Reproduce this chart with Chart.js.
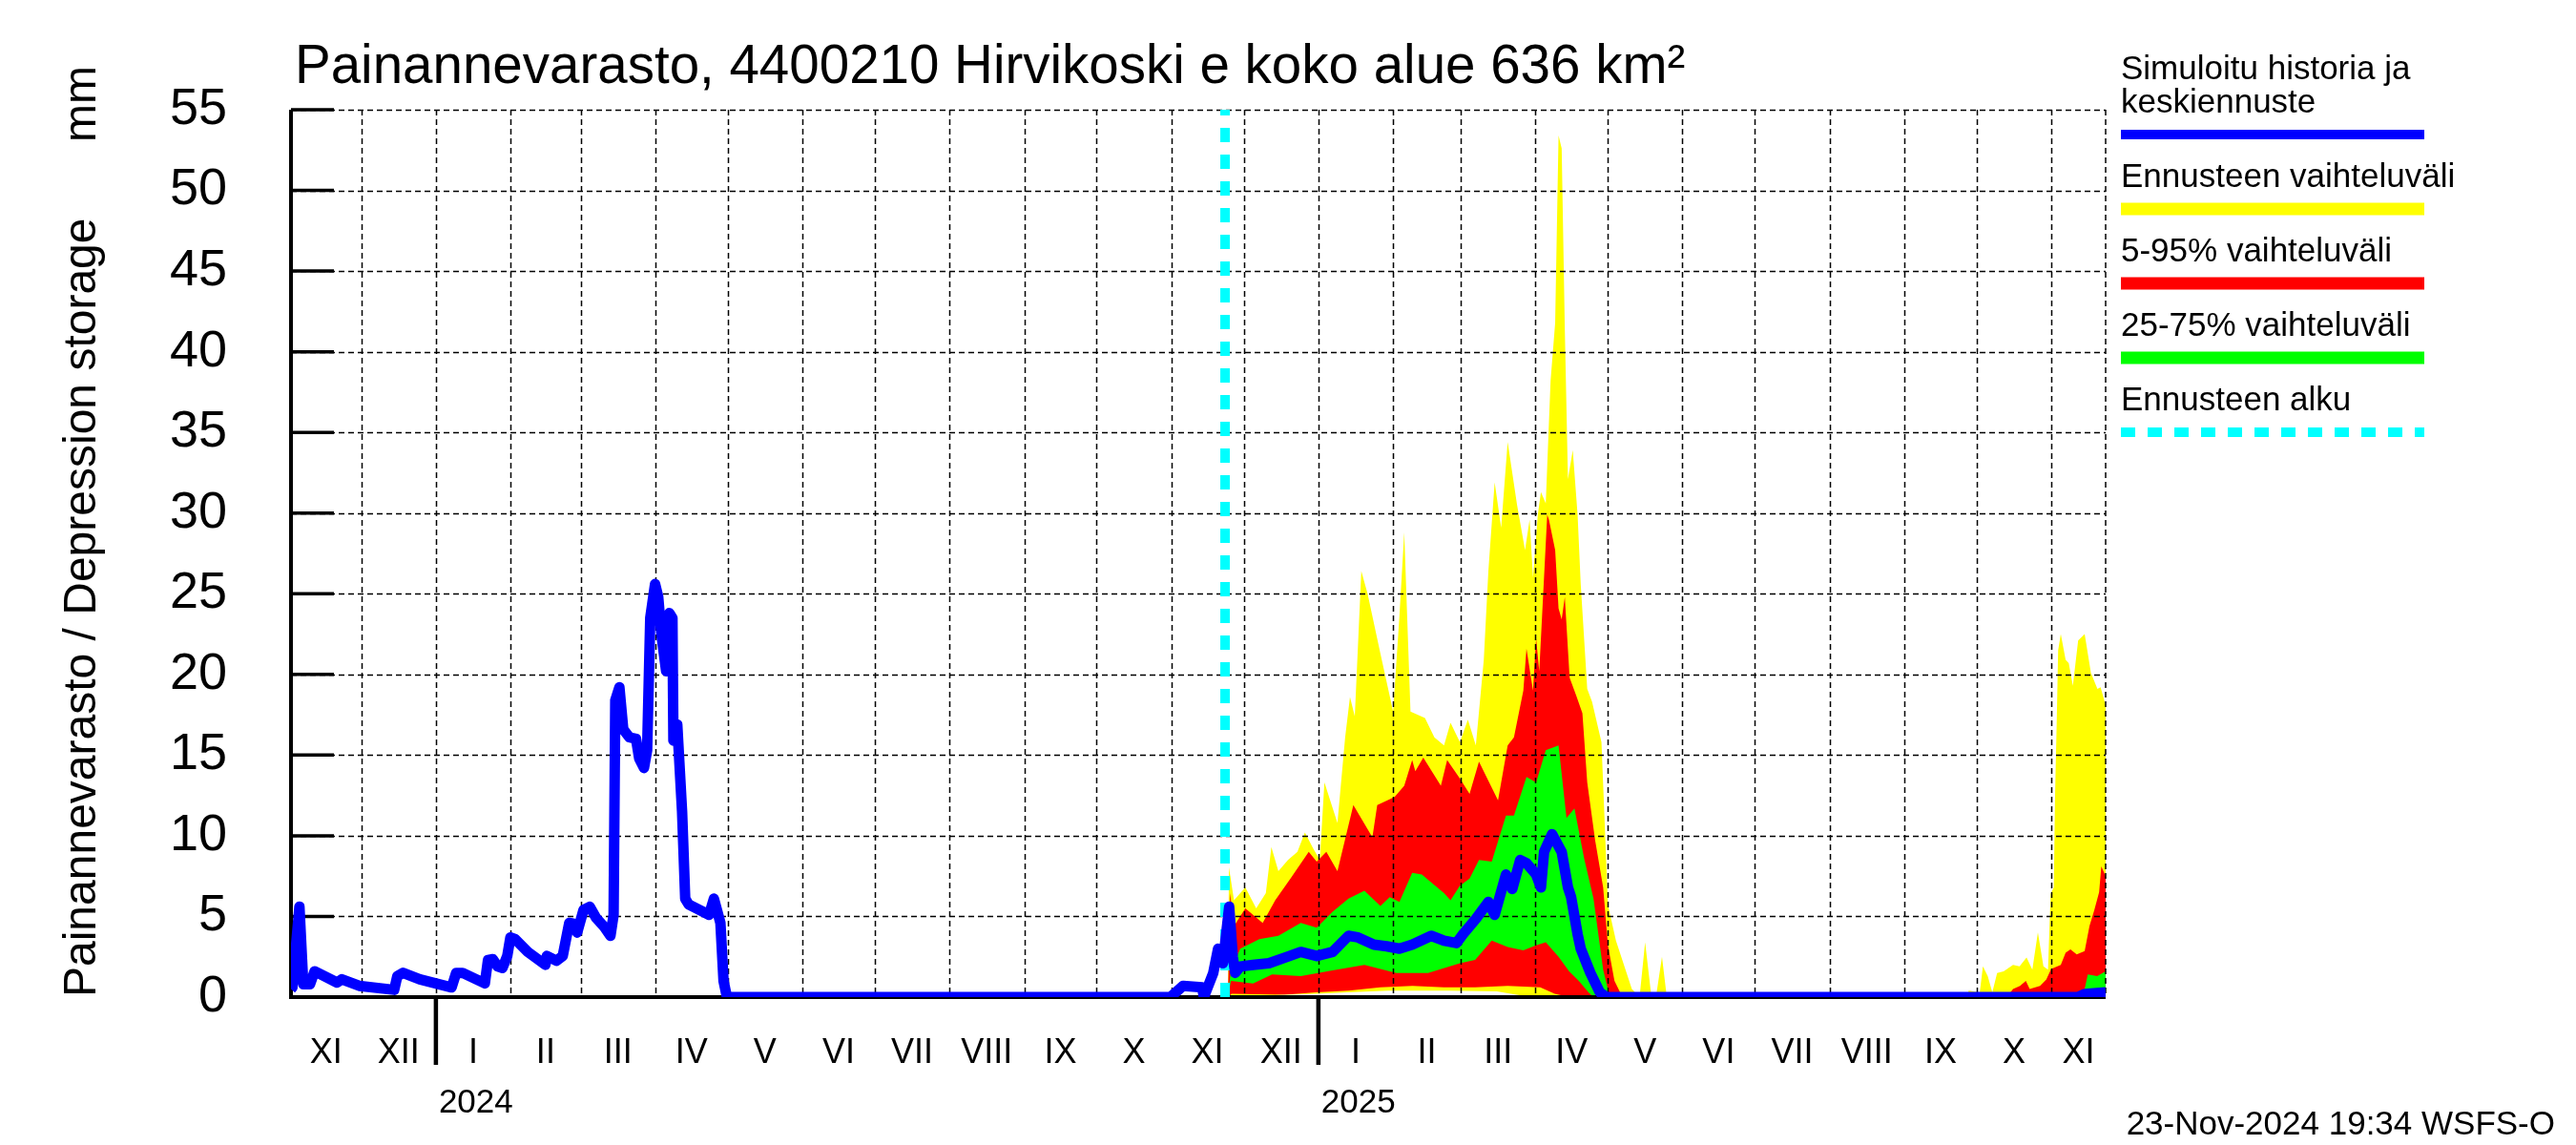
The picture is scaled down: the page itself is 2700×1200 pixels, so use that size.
<!DOCTYPE html>
<html>
<head>
<meta charset="utf-8">
<title>Painannevarasto 4400210 Hirvikoski</title>
<script src="https://cdn.jsdelivr.net/npm/chart.js@4.4.1/dist/chart.umd.min.js"></script>
<style>
  html, body { margin: 0; padding: 0; background: #fff; }
  canvas { display: block; }
</style>
</head>
<body>
<canvas id="chart" width="2700" height="1200"></canvas>
<script>
// x = days counted from 1 Jan 2024, y = mm
const xStart = -60.1;        // 2 Nov 2023
const xEnd = 692.5;          // 23 Nov 2025
const forecastStart = 327.3; // 23 Nov 2024

const romanMonths = ['I', 'II', 'III', 'IV', 'V', 'VI', 'VII', 'VIII', 'IX', 'X', 'XI', 'XII'];
const yearLabels = ['2024', '2025'];

// simulated history + median forecast (blue)
const simulated = [
  [-60.1, 0.5], [-59.5, 0.6], [-56.6, 5.6], [-55.0, 0.8], [-52.2, 0.8], [-50.3, 1.6], [-41.0, 0.9],
  [-39.0, 1.1], [-31.8, 0.7], [-17.3, 0.45], [-16.0, 1.3], [-13.6, 1.5], [-6.7, 1.1], [6.5, 0.6],
  [8.4, 1.5], [11.1, 1.5], [20.3, 0.85], [21.6, 2.3], [23.6, 2.35], [25.6, 1.9], [27.6, 1.8],
  [29.6, 2.55], [30.9, 3.7], [32.8, 3.6], [38.1, 2.8], [45.4, 2.0], [46.0, 2.55], [50.0, 2.25],
  [52.6, 2.55], [55.3, 4.6], [57.3, 4.55], [58.6, 4.0], [61.2, 5.4], [63.8, 5.6], [66.5, 4.9],
  [69.8, 4.35], [72.4, 3.8], [73.7, 5.1], [74.4, 18.4], [76.1, 19.2], [77.7, 16.6], [80.3, 16.1],
  [83.0, 16.0], [84.3, 14.8], [86.3, 14.2], [87.6, 15.3], [88.9, 23.5], [90.9, 25.6], [92.2, 24.8],
  [93.5, 22.5], [95.5, 20.2], [96.8, 23.8], [98.1, 23.5], [98.5, 15.9], [100.1, 16.9], [102.1, 11.5],
  [103.4, 6.1], [104.8, 5.75], [109.3, 5.4], [113.3, 5.1], [115.3, 6.1], [118.0, 4.6], [119.3, 1.0],
  [120.7, 0], [304.6, 0], [309.9, 0.7], [317.8, 0.6], [318.5, 0], [322.4, 1.5], [324.4, 3.0],
  [326.4, 2.1], [329.0, 5.6], [330.5, 2.5], [331.5, 1.5], [333.6, 1.9], [338.9, 2.0], [345.5, 2.1],
  [352.1, 2.45], [358.7, 2.8], [365.3, 2.55], [371.9, 2.8], [378.5, 3.8], [382.4, 3.7], [389.0, 3.25],
  [394.3, 3.15], [399.6, 3.0], [404.9, 3.25], [412.8, 3.8], [418.1, 3.5], [423.3, 3.35], [426.0, 3.9],
  [431.3, 4.85], [436.5, 5.9], [439.1, 5.1], [443.8, 7.6], [446.4, 6.7], [449.7, 8.5], [452.3, 8.3],
  [456.3, 7.6], [458.3, 6.8], [459.6, 9.0], [462.9, 10.1], [466.9, 9.0], [469.5, 6.8], [470.8, 6.2],
  [473.5, 3.9], [474.8, 3.0], [478.8, 1.5], [482.7, 0.3], [485.4, 0], [681.0, 0], [684.0, 0.2],
  [692.5, 0.3]
];

// forecast range, max (yellow top)
const forecastMax = [
  [328.5, 0], [328.9, 8.05], [331.0, 6.0], [335.7, 6.8], [340.2, 5.5], [344.2, 6.45], [346.5, 9.3],
  [349.4, 7.8], [353.4, 8.5], [357.3, 9.0], [360.4, 10.2], [363.9, 9.2], [366.6, 8.5], [368.5, 13.3],
  [373.9, 10.8], [377.1, 16.1], [379.1, 18.6], [381.1, 17.4], [383.8, 26.4], [386.4, 25.0],
  [391.7, 21.3], [397.0, 17.7], [399.6, 23.6], [401.6, 28.8], [404.2, 17.7], [410.2, 17.3],
  [414.1, 16.1], [418.1, 15.6], [420.8, 17.0], [424.7, 15.8], [428.0, 17.2], [431.3, 15.6],
  [434.6, 20.9], [436.5, 26.4], [439.1, 31.9], [441.8, 29.1], [444.5, 34.4], [448.4, 30.5],
  [451.7, 27.7], [453.6, 29.6], [455.0, 26.0], [457.0, 29.9], [458.3, 31.3], [460.3, 30.6],
  [462.3, 38.2], [464.2, 41.8], [465.6, 53.4], [466.9, 52.6], [468.2, 41.4], [469.5, 32.1],
  [471.5, 33.9], [473.5, 29.9], [474.8, 25.6], [477.5, 19.1], [479.5, 18.3], [483.4, 15.8],
  [486.1, 5.7], [489.4, 3.5], [496.0, 0.5], [499.2, 0], [501.5, 3.4], [503.9, 0.3], [506.0, 0],
  [508.5, 2.5], [510.5, 0], [635.0, 0], [635.7, 0.4], [640.3, 0.3], [641.6, 1.9], [643.6, 1.3],
  [645.5, 0.3], [647.5, 1.5], [650.2, 1.6], [654.1, 2.0], [656.8, 1.9], [659.7, 2.45], [662.1, 1.7],
  [664.4, 4.0], [666.7, 1.9], [668.6, 1.7], [669.7, 6.4], [671.0, 6.8], [671.5, 12.3], [672.2, 17.0],
  [672.8, 21.5], [673.9, 22.5], [675.9, 20.9], [677.2, 20.7], [678.9, 19.3], [681.1, 22.1],
  [683.8, 22.5], [686.4, 20.1], [689.1, 19.1], [690.4, 19.2], [692.5, 18.1]
];

// 95 % (red top)
const forecastP95 = [
  [328.5, 0], [329.4, 6.45], [331.0, 4.4], [335.7, 5.5], [342.9, 4.6], [348.1, 6.0], [354.7, 7.4],
  [362.0, 9.0], [365.3, 8.4], [369.3, 9.0], [373.9, 7.8], [380.5, 11.9], [388.4, 9.9], [390.4, 11.9],
  [397.6, 12.4], [401.6, 13.1], [404.9, 14.7], [406.2, 14.0], [409.5, 14.85], [416.8, 13.1],
  [419.4, 14.7], [424.7, 13.55], [428.7, 12.6], [432.6, 14.6], [440.5, 12.2], [444.5, 15.6],
  [447.1, 16.1], [451.0, 19.0], [452.3, 21.6], [455.0, 19.0], [456.3, 22.2], [457.6, 20.2],
  [460.9, 29.9], [461.6, 29.6], [464.2, 27.7], [465.6, 24.1], [466.9, 23.4], [468.2, 24.8],
  [470.2, 19.8], [472.9, 18.7], [475.5, 17.6], [477.5, 13.3], [480.8, 9.7], [484.1, 6.8],
  [486.1, 3.2], [488.8, 1.0], [492.1, 0], [651.5, 0], [654.1, 0.5], [657.0, 0.7], [659.4, 1.0],
  [661.0, 0.5], [665.3, 0.7], [667.9, 1.1], [669.9, 1.75], [673.9, 2.0], [675.9, 2.75], [677.9, 2.95],
  [680.5, 2.65], [683.8, 2.85], [685.8, 4.4], [687.8, 5.4], [689.8, 6.5], [690.7, 8.1], [692.5, 7.5]
];

// 75 % (green top)
const forecastP75 = [
  [328.5, 0], [329.7, 1.65], [333.6, 3.0], [341.5, 3.6], [349.4, 3.8], [358.7, 4.6], [365.3, 4.3],
  [371.9, 5.3], [378.5, 6.1], [385.1, 6.6], [391.7, 5.65], [395.6, 6.2], [399.6, 5.9], [404.9, 7.7],
  [408.9, 7.6], [418.1, 6.45], [420.8, 6.0], [424.7, 6.9], [428.7, 7.35], [432.6, 8.5], [437.9, 8.4],
  [443.8, 11.25], [447.1, 11.25], [452.3, 13.65], [456.3, 13.3], [460.3, 15.3], [465.6, 15.6],
  [468.9, 11.1], [472.2, 11.7], [476.2, 8.6], [480.1, 6.1], [484.1, 1.7], [486.7, 0.1], [487.5, 0],
  [679.2, 0], [681.0, 0.3], [683.8, 0.5], [685.1, 1.4], [689.0, 1.3], [692.5, 1.6]
];

// 25 % (green bottom)
const forecastP25 = [
  [328.5, 0], [329.7, 1.0], [338.9, 0.85], [346.8, 1.4], [358.7, 1.3], [371.9, 1.65], [385.1, 2.0],
  [398.3, 1.5], [411.5, 1.5], [424.7, 2.1], [431.0, 2.3], [437.9, 3.5], [444.5, 3.1], [451.0, 2.9],
  [456.0, 3.2], [460.3, 3.4], [465.6, 2.5], [470.0, 1.6], [474.0, 1.0], [478.0, 0.3], [480.1, 0]
];

// 5 % (red bottom)
const forecastP5 = [
  [328.5, 0], [330.0, 0.2], [352.0, 0.15], [365.0, 0.3], [378.5, 0.4], [391.7, 0.6], [405.0, 0.7],
  [418.0, 0.6], [431.0, 0.6], [444.5, 0.7], [458.0, 0.6], [464.0, 0.2], [470.0, 0]
];

// forecast range, min (yellow bottom)
const forecastMin = [
  [328.5, 0], [345.0, 0.1], [365.0, 0.2], [378.0, 0.3], [395.0, 0.4], [420.0, 0.4], [440.0, 0.35],
  [450.0, 0.1], [455.0, 0]
];

const FONT = "'Liberation Sans', Arial, sans-serif";
const BLUE = '#0000ff', CYAN = '#00ffff', YELLOW = '#ffff00', RED = '#ff0000', GREEN = '#00ff00';

function dayOf(y, m, d) {
  return (Date.UTC(y, m, d) - Date.UTC(2024, 0, 1)) / 86400000;
}
// month boundaries Nov 2023 .. Dec 2025
const months = [];
for (let i = 0; i <= 25; i++) {
  const dt = new Date(Date.UTC(2023, 10 + i, 1));
  months.push({ day: dayOf(dt.getUTCFullYear(), dt.getUTCMonth(), 1), label: romanMonths[dt.getUTCMonth()] });
}
const yearStarts = [dayOf(2024, 0, 1), dayOf(2025, 0, 1)];

const pts = arr => arr.map(p => ({ x: p[0], y: p[1] }));

function band(data, color) {
  return {
    data: pts(data), borderWidth: 0, borderColor: 'rgba(0,0,0,0)', backgroundColor: color,
    fill: 'origin', pointRadius: 0, tension: 0
  };
}

const legendItems = [
  { lines: ['Simuloitu historia ja', 'keskiennuste'], color: BLUE, width: 10 },
  { lines: ['Ennusteen vaihteluväli'], color: YELLOW, width: 13 },
  { lines: ['5-95% vaihteluväli'], color: RED, width: 13 },
  { lines: ['25-75% vaihteluväli'], color: GREEN, width: 13 },
  { lines: ['Ennusteen alku'], color: CYAN, width: 10, dash: [15, 13] }
];

// grid, axes and all texts
const wsfsDecor = {
  id: 'wsfsDecor',
  beforeDatasetDraw(chart, args) {
    if (args.index !== 1) return;   // just before the cyan + blue lines
    const { ctx, chartArea: a, scales: { x, y } } = chart;
    ctx.save();
    ctx.strokeStyle = '#000';
    ctx.lineWidth = 1.5;
    ctx.setLineDash([6, 4]);
    ctx.beginPath();
    y.ticks.forEach(t => {
      if (t.value === 0) return;
      const py = Math.round(y.getPixelForValue(t.value)) + 0.5;
      ctx.moveTo(a.left, py); ctx.lineTo(a.right, py);
    });
    months.forEach(m => {
      if (m.day <= xStart || m.day >= xEnd) return;
      const px = Math.round(x.getPixelForValue(m.day)) + 0.5;
      ctx.moveTo(px, a.top); ctx.lineTo(px, a.bottom);
    });
    ctx.moveTo(a.right, a.top); ctx.lineTo(a.right, a.bottom);
    ctx.stroke();
    ctx.setLineDash([]);

    // solid axes
    ctx.lineWidth = 4;
    ctx.beginPath();
    ctx.moveTo(a.left, a.top); ctx.lineTo(a.left, a.bottom + 2);
    ctx.moveTo(a.left - 2, a.bottom); ctx.lineTo(a.right, a.bottom);
    ctx.stroke();
    // inward y ticks
    ctx.lineWidth = 3.5;
    ctx.beginPath();
    y.ticks.forEach(t => {
      const py = y.getPixelForValue(t.value);
      ctx.moveTo(a.left, py); ctx.lineTo(a.left + 45, py);
    });
    ctx.stroke();
    // year ticks
    ctx.lineWidth = 4.5;
    ctx.beginPath();
    yearStarts.forEach(d => {
      const px = x.getPixelForValue(d);
      ctx.moveTo(px, a.bottom); ctx.lineTo(px, a.bottom + 71);
    });
    ctx.stroke();
    ctx.restore();
  },
  afterDraw(chart) {
    const { ctx, chartArea: a, scales: { x } } = chart;
    ctx.save();
    ctx.fillStyle = '#000';

    // month labels
    ctx.font = '36px ' + FONT;
    ctx.textAlign = 'center';
    ctx.textBaseline = 'middle';
    for (let i = 0; i < months.length - 1; i++) {
      const s = Math.max(months[i].day, xStart), e = Math.min(months[i + 1].day, xEnd);
      if (e <= s) continue;
      const px = (x.getPixelForValue(s) + x.getPixelForValue(e)) / 2;
      ctx.fillText(months[i].label, px, 1104);
    }
    // year labels
    ctx.font = '35px ' + FONT;
    ctx.textAlign = 'left';
    ctx.textBaseline = 'alphabetic';
    yearStarts.forEach((d, i) => ctx.fillText(yearLabels[i], x.getPixelForValue(d) + 3, 1166));

    // title
    ctx.font = '56.5px ' + FONT;
    ctx.fillText('Painannevarasto, 4400210 Hirvikoski e koko alue 636 km²', 309, 87);

    // y axis title
    ctx.font = '48px ' + FONT;
    ctx.save();
    ctx.translate(100, a.bottom);
    ctx.rotate(-Math.PI / 2);
    ctx.textAlign = 'left';
    ctx.fillText('Painannevarasto / Depression storage', 0, 0);
    ctx.restore();
    ctx.save();
    ctx.translate(100, 69);
    ctx.rotate(-Math.PI / 2);
    ctx.textAlign = 'right';
    ctx.fillText('mm', 0, 0);
    ctx.restore();

    // legend
    ctx.font = '35px ' + FONT;
    ctx.textAlign = 'left';
    const lx = 2223, lw = 318;
    let by = 83;
    legendItems.forEach(item => {
      item.lines.forEach((t, k) => {
        if (k > 0) by += 35;
        ctx.fillText(t, lx, by);
      });
      const ly = by + 23;
      ctx.strokeStyle = item.color;
      ctx.lineWidth = item.width;
      ctx.setLineDash(item.dash || []);
      ctx.beginPath();
      ctx.moveTo(lx, ly); ctx.lineTo(lx + lw, ly);
      ctx.stroke();
      ctx.setLineDash([]);
      by = ly + 55;
    });

    // timestamp
    ctx.font = '35px ' + FONT;
    ctx.textAlign = 'right';
    ctx.fillText('23-Nov-2024 19:34 WSFS-O', 2678, 1189);
    ctx.restore();
  }
};

new Chart(document.getElementById('chart'), {
  type: 'line',
  data: {
    datasets: [
      { data: pts(simulated), borderColor: BLUE, borderWidth: 11, pointRadius: 0, tension: 0,
        borderJoinStyle: 'round', fill: false },
      { data: [{ x: forecastStart, y: 0 }, { x: forecastStart, y: 55 }], borderColor: CYAN,
        borderWidth: 10, borderDash: [15, 13], pointRadius: 0, fill: false },
      band(forecastMin, '#ffffff'),
      band(forecastP5, YELLOW),
      band(forecastP25, RED),
      band(forecastP75, GREEN),
      band(forecastP95, RED),
      band(forecastMax, YELLOW)
    ]
  },
  options: {
    responsive: false,
    devicePixelRatio: 1,
    animation: false,
    events: [],
    layout: { padding: { left: 0, top: 115, right: 493, bottom: 155 } },
    plugins: { legend: { display: false }, title: { display: false }, tooltip: { enabled: false } },
    scales: {
      x: { type: 'linear', min: xStart, max: xEnd, display: false },
      y: {
        min: 0, max: 55,
        ticks: { stepSize: 5, color: '#000', padding: 67, font: { size: 54, family: FONT } },
        grid: { display: false, drawTicks: false },
        border: { display: false },
        afterFit(scale) { scale.width = 305; }
      }
    }
  },
  plugins: [wsfsDecor]
});
</script>
</body>
</html>
